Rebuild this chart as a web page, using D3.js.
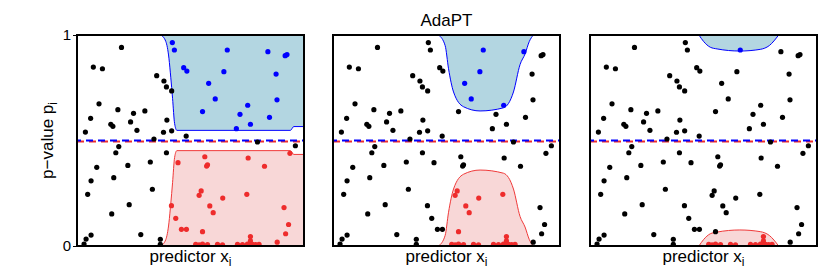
<!DOCTYPE html>
<html><head><meta charset="utf-8">
<script src="https://cdn.jsdelivr.net/npm/d3@7"></script>
<style>body{margin:0;background:#fff} svg{display:block}</style>
</head><body><svg id="c" width="830" height="277"></svg>
<script>
// ---- data (same points in every panel; x = predictor in [0,1], p = p-value) ----
const pointX = [
  0.196,0.072,0.112,0.351,0.383,0.394,0.417,0.097,0.180,0.249,0.299,0.060,0.236,0.396,0.149,0.158,0.264,0.381,0.417,0.037,0.339,0.481,0.184,0.171,0.394,0.087,0.224,0.323,0.062,0.162,0.332,0.047,0.230,0.153,0.281,0.062,0.040,0.031,0.367,0.367,0.795,0.962,
  0.420,0.429,0.470,0.484,0.553,0.580,0.609,0.647,0.662,0.702,0.718,0.752,0.764,0.841,0.848,0.877,0.881,0.917,0.925,
  0.445,0.563,0.571,0.575,0.754,0.826,0.938,0.416,0.435,0.460,0.482,0.538,0.547,0.585,0.600,0.642,0.553,0.748,0.764,0.764,0.912,0.932,0.919,0.882,
  0.523,0.538,0.553,0.575,0.619,0.641,0.707,0.729,0.751,0.762,0.773,0.787,0.802
];
const pointP = [
  0.941,0.848,0.840,0.807,0.782,0.754,0.735,0.674,0.646,0.629,0.640,0.605,0.588,0.597,0.577,0.567,0.548,0.539,0.546,0.540,0.507,0.521,0.471,0.442,0.442,0.373,0.382,0.398,0.309,0.324,0.269,0.245,0.196,0.152,0.054,0.052,0.033,0.009,0.032,0.008,0.493,0.475,
  0.964,0.929,0.845,0.829,0.637,0.771,0.697,0.826,0.929,0.556,0.624,0.667,0.577,0.921,0.610,0.815,0.693,0.902,0.907,
  0.395,0.423,0.379,0.385,0.417,0.378,0.439,0.191,0.131,0.079,0.079,0.240,0.261,0.190,0.158,0.227,0.068,0.245,0.045,0.024,0.182,0.102,0.058,0.018,
  0.008,0.006,0.009,0.007,0.008,0.006,0.008,0.007,0.009,0.006,0.008,0.007,0.008
];
// rejection threshold s(x) per panel: reject (red) if p < s(x), mirror (blue) if p > 1 - s(x)
const thresholdX1 = [0.369,0.391,0.405,0.413,0.421,0.430,0.440,0.940,0.955,1.000];
const thresholdS1 = [0.000,0.030,0.110,0.200,0.300,0.420,0.452,0.452,0.434,0.434];
const thresholdX2 = [0.465,0.494,0.509,0.531,0.575,0.648,0.751,0.795,0.824,0.846,0.865,0.883];
const thresholdS2 = [0.000,0.050,0.160,0.270,0.340,0.360,0.345,0.270,0.140,0.090,0.030,0.000];
const thresholdX3 = [0.480,0.500,0.530,0.560,0.660,0.750,0.790,0.831];
const thresholdS3 = [0.000,0.030,0.058,0.066,0.076,0.068,0.050,0.000];
const targetLevel = 0.5;
const yTickValues = [0, 1];
const chartTitle = "AdaPT";
const xLabel = "predictor x";
const yLabel = "p\u2212value p";
const labelSub = "i";

// ---- drawing ----
const svg = d3.select("#c");
const font = "'Liberation Sans', Arial, Helvetica, sans-serif";
const panelLefts = [77, 333, 590];
const panelW = 227, plotTop = 35, plotBottom = 246;
const thresholds = [[thresholdX1, thresholdS1],[thresholdX2, thresholdS2],[thresholdX3, thresholdS3]];
const pts = pointX.map((x,i)=>({x, p: pointP[i]}));

const RED = "#ee2c2c", BLUE = "#0000ff";

thresholds.forEach(([tx, ts], k) => {
  const left = panelLefts[k];
  const x = d3.scaleLinear([0,1],[left, left+panelW]);
  const y = d3.scaleLinear([0,1],[plotBottom, plotTop]);
  const sAt = d3.scaleLinear(tx, ts).clamp(true);
  const knots = tx.map((v,i)=>({x:v, s:ts[i]}));
  const g = svg.append("g");
  const cid = "clip"+k;
  svg.append("clipPath").attr("id",cid).append("rect")
    .attr("x",left).attr("y",plotTop).attr("width",panelW).attr("height",plotBottom-plotTop);
  const gc = g.append("g").attr("clip-path",`url(#${cid})`);

  const lowArea = d3.area().x(d=>x(d.x)).y0(y(0)).y1(d=>y(d.s)).curve(d3.curveMonotoneX);
  const upArea = d3.area().x(d=>x(d.x)).y0(y(1)).y1(d=>y(1-d.s)).curve(d3.curveMonotoneX);
  gc.append("path").attr("d", lowArea(knots)).attr("fill","#f8d7d7");
  gc.append("path").attr("d", upArea(knots)).attr("fill","#b3d6e1");
  gc.append("path").attr("d", d3.line().x(d=>x(d.x)).y(d=>y(d.s)).curve(d3.curveMonotoneX)(knots))
    .attr("fill","none").attr("stroke","#f03a3a").attr("stroke-width",1);
  gc.append("path").attr("d", d3.line().x(d=>x(d.x)).y(d=>y(1-d.s)).curve(d3.curveMonotoneX)(knots))
    .attr("fill","none").attr("stroke",BLUE).attr("stroke-width",1);

  // target level dashed lines
  gc.append("line").attr("x1",x(0)).attr("x2",x(1)).attr("y1",y(targetLevel)+1).attr("y2",y(targetLevel)+1)
    .attr("stroke",RED).attr("stroke-width",2).attr("stroke-dasharray","7,5");
  gc.append("line").attr("x1",x(0)).attr("x2",x(1)).attr("y1",y(targetLevel)).attr("y2",y(targetLevel))
    .attr("stroke",BLUE).attr("stroke-width",2).attr("stroke-dasharray","7,5").attr("stroke-dashoffset",3);

  gc.selectAll("circle").data(pts).join("circle")
    .attr("cx",d=>x(d.x)).attr("cy",d=>y(d.p)).attr("r",2.6)
    .attr("fill",d=>{ const s=sAt(d.x); return d.p < s ? RED : (d.p > 1-s ? BLUE : "#000"); });

  g.append("rect").attr("x",left).attr("y",plotTop).attr("width",panelW).attr("height",plotBottom-plotTop)
    .attr("fill","none").attr("stroke","#000").attr("stroke-width",2);

  const xl = g.append("text").attr("x",left+panelW/2).attr("y",262).attr("text-anchor","middle")
    .attr("font-family",font).attr("font-size",17).attr("fill","#000");
  xl.append("tspan").text(xLabel);
  xl.append("tspan").attr("font-size",12).attr("dy",4).text(labelSub);

  if (k===0) {
    const ax = g.append("g").attr("transform",`translate(${left},0)`)
      .call(d3.axisLeft(y).tickValues(yTickValues).tickFormat(d3.format("d")).tickSize(4).tickPadding(2));
    ax.select(".domain").remove();
    ax.selectAll("text").attr("font-family",font).attr("font-size",15).attr("fill","#000");
    ax.selectAll("line").attr("stroke","#000");
    const yl = g.append("text").attr("transform",`translate(53,${(plotTop+plotBottom)/2}) rotate(-90)`)
      .attr("text-anchor","middle").attr("font-family",font).attr("font-size",17).attr("fill","#000");
    yl.append("tspan").text(yLabel);
    yl.append("tspan").attr("font-size",12).attr("dy",4).text(labelSub);
  }
  if (k===1) {
    g.append("text").attr("x",left+panelW/2).attr("y",26).attr("text-anchor","middle")
      .attr("font-family",font).attr("font-size",17).attr("fill","#000").text(chartTitle);
  }
});
</script></body></html>
